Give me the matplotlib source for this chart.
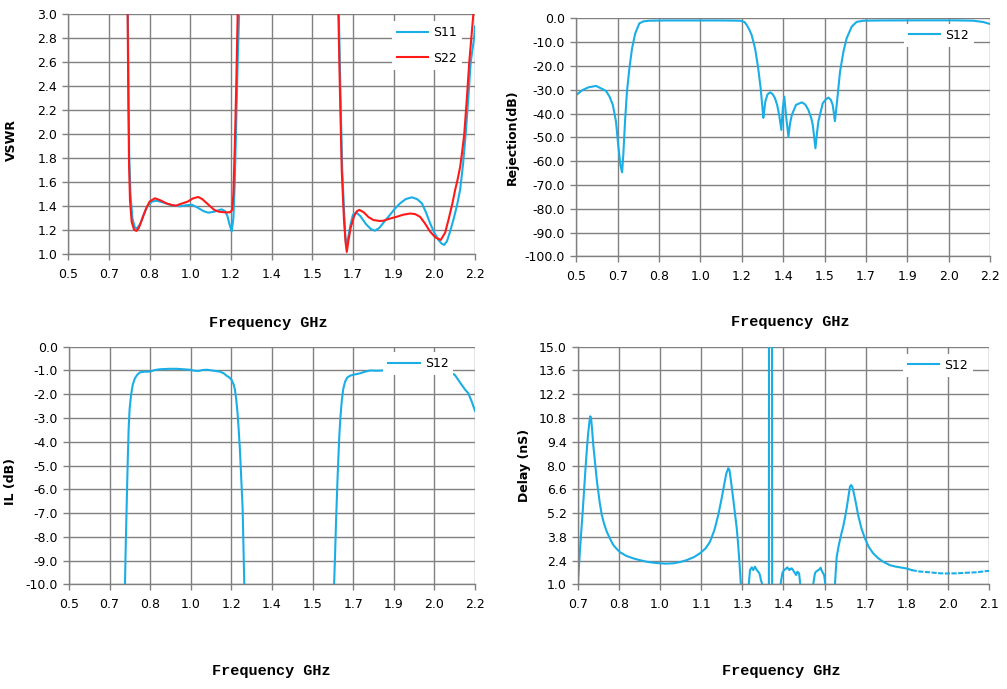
# Filter response plots: VSWR, rejection, insertion loss and group delay
import numpy as np
import matplotlib
matplotlib.use("Agg")
import matplotlib.pyplot as plt
import matplotlib.ticker as mtick

plt.rcParams["axes.unicode_minus"] = False
plt.rcParams["font.family"] = "DejaVu Sans"

BLUE = "#1aaee6"
RED = "#ff1a1a"
GRID = "#808080"

# ---- data (frequency in GHz) ----
# VSWR S11
s11_pts = [(0.745, 3.6), (0.749, 3.0), (0.752, 2.3), (0.755, 1.8), (0.760, 1.5), (0.768, 1.3),
           (0.778, 1.225), (0.786, 1.215), (0.800, 1.25), (0.815, 1.33), (0.830, 1.40), (0.850, 1.44),
           (0.870, 1.447), (0.900, 1.43), (0.930, 1.41), (0.967, 1.40), (0.990, 1.408), (1.016, 1.413),
           (1.040, 1.39), (1.065, 1.36), (1.085, 1.347), (1.110, 1.355), (1.141, 1.375), (1.155, 1.36),
           (1.165, 1.32), (1.174, 1.25), (1.183, 1.19), (1.190, 1.30), (1.196, 1.6), (1.202, 2.1),
           (1.208, 2.6), (1.214, 3.0), (1.218, 3.6),
           (1.627, 3.6), (1.631, 3.0), (1.637, 2.4), (1.645, 1.7), (1.653, 1.35), (1.658, 1.15),
           (1.662, 1.08), (1.668, 1.12), (1.680, 1.25), (1.690, 1.33), (1.703, 1.35), (1.720, 1.32),
           (1.745, 1.25), (1.765, 1.21), (1.782, 1.197), (1.800, 1.22), (1.820, 1.27), (1.845, 1.33),
           (1.865, 1.38), (1.887, 1.425), (1.910, 1.46), (1.936, 1.475), (1.958, 1.46), (1.978, 1.425),
           (1.995, 1.35), (2.012, 1.26), (2.030, 1.18), (2.047, 1.12), (2.060, 1.09), (2.071, 1.078),
           (2.083, 1.11), (2.096, 1.19), (2.110, 1.29), (2.124, 1.40), (2.138, 1.54), (2.150, 1.75),
           (2.161, 2.0), (2.172, 2.3), (2.182, 2.6), (2.196, 2.8), (2.200, 2.9)]

# VSWR S22
s22_pts = [(0.745, 3.6), (0.748, 3.0), (0.751, 2.3), (0.754, 1.75), (0.758, 1.45), (0.765, 1.27),
           (0.775, 1.205), (0.785, 1.195), (0.795, 1.22), (0.810, 1.30), (0.825, 1.38), (0.840, 1.44),
           (0.862, 1.467), (0.885, 1.45), (0.910, 1.425), (0.935, 1.41), (0.950, 1.405), (0.970, 1.42),
           (1.000, 1.44), (1.020, 1.465), (1.043, 1.478), (1.060, 1.46), (1.085, 1.415), (1.110, 1.37),
           (1.130, 1.355), (1.155, 1.35), (1.176, 1.35), (1.185, 1.37), (1.190, 1.5), (1.196, 1.9),
           (1.202, 2.4), (1.208, 3.0), (1.212, 3.6),
           (1.625, 3.6), (1.629, 3.0), (1.635, 2.4), (1.643, 1.7), (1.652, 1.3), (1.659, 1.1),
           (1.664, 1.02), (1.670, 1.1), (1.680, 1.22), (1.695, 1.32), (1.707, 1.36), (1.717, 1.37),
           (1.735, 1.35), (1.755, 1.31), (1.775, 1.286), (1.800, 1.278), (1.817, 1.28), (1.845, 1.298),
           (1.873, 1.313), (1.900, 1.33), (1.929, 1.34), (1.950, 1.335), (1.970, 1.313), (1.990, 1.26),
           (2.012, 1.19), (2.035, 1.14), (2.057, 1.12), (2.075, 1.18), (2.089, 1.286), (2.105, 1.42),
           (2.117, 1.536), (2.128, 1.63), (2.138, 1.73), (2.146, 1.85), (2.155, 2.0), (2.166, 2.3),
           (2.176, 2.6), (2.193, 3.0), (2.200, 3.15)]

# Rejection S12 (dB)
rej_pts = [(0.500, -32.2), (0.526, -30.1), (0.550, -29.0), (0.581, -28.4), (0.605, -29.6),
           (0.622, -30.5), (0.637, -33.0), (0.650, -36.4), (0.663, -43.4), (0.672, -53.2),
           (0.681, -61.6), (0.688, -64.7), (0.693, -57.4), (0.700, -43.4), (0.708, -30.8),
           (0.718, -21.0), (0.729, -12.6), (0.742, -6.3), (0.759, -2.1), (0.775, -1.3),
           (0.800, -1.0), (0.868, -0.9), (1.000, -0.9), (1.100, -0.9), (1.172, -1.0),
           (1.190, -1.5), (1.200, -2.8), (1.210, -4.7), (1.220, -7.0), (1.234, -12.6),
           (1.247, -21.0), (1.257, -29.4), (1.263, -36.0), (1.268, -41.8), (1.272, -38.5),
           (1.276, -35.0), (1.285, -32.0), (1.296, -31.1), (1.306, -31.8), (1.316, -33.6),
           (1.325, -36.5), (1.333, -40.6), (1.342, -46.9), (1.348, -37.8), (1.354, -32.9),
           (1.361, -40.6), (1.371, -49.7), (1.378, -44.0), (1.385, -40.6), (1.402, -36.4),
           (1.426, -35.3), (1.440, -36.2), (1.453, -38.5), (1.465, -42.0), (1.471, -44.8),
           (1.482, -54.6), (1.488, -48.5), (1.494, -43.4), (1.512, -35.7), (1.525, -34.0),
           (1.535, -33.3), (1.545, -34.2), (1.553, -36.4), (1.562, -43.2), (1.567, -38.5),
           (1.572, -33.6), (1.583, -22.4), (1.597, -14.0), (1.610, -8.4), (1.631, -3.5),
           (1.651, -1.5), (1.679, -1.0), (1.750, -0.9), (1.900, -0.85), (2.050, -0.85),
           (2.130, -1.0), (2.171, -1.55), (2.200, -2.4)]

# Insertion loss S12 (dB)
il_pts = [(0.733, -11.0), (0.7345, -10.0), (0.738, -8.2), (0.742, -6.5), (0.746, -4.8),
          (0.750, -3.4), (0.754, -2.6), (0.760, -2.03), (0.767, -1.6), (0.776, -1.33),
          (0.786, -1.18), (0.797, -1.08), (0.815, -1.05), (0.839, -1.05), (0.860, -0.98),
          (0.881, -0.95), (0.920, -0.93), (0.951, -0.93), (0.980, -0.95), (1.007, -0.97),
          (1.025, -1.01), (1.041, -1.02), (1.060, -0.98), (1.077, -0.97), (1.100, -1.0),
          (1.132, -1.05), (1.148, -1.12), (1.160, -1.22), (1.172, -1.3), (1.181, -1.4),
          (1.190, -1.6), (1.195, -1.82), (1.200, -2.2), (1.205, -2.7), (1.210, -3.4),
          (1.216, -4.4), (1.222, -5.7), (1.227, -6.8), (1.234, -10.0), (1.236, -11.0),
          (1.608, -11.0), (1.610, -10.0), (1.614, -8.8), (1.618, -7.4), (1.625, -5.4),
          (1.632, -3.72), (1.637, -2.9), (1.642, -2.3), (1.648, -1.8), (1.656, -1.47),
          (1.665, -1.3), (1.677, -1.22), (1.695, -1.17), (1.719, -1.12), (1.740, -1.05),
          (1.761, -1.0), (1.790, -1.01), (1.816, -1.0), (1.840, -0.97), (1.858, -0.95),
          (1.900, -0.95), (1.950, -0.97), (2.000, -0.98), (2.050, -1.0), (2.090, -1.05),
          (2.116, -1.19), (2.130, -1.4), (2.144, -1.6), (2.158, -1.8), (2.172, -1.96),
          (2.186, -2.3), (2.200, -2.7)]

# Group delay S12 (ns), solid part
delay_pts = [(0.699, 0.0), (0.700, 1.0), (0.704, 2.0), (0.708, 3.1), (0.713, 4.3), (0.717, 5.3),
             (0.721, 6.4), (0.725, 7.44), (0.730, 8.7), (0.735, 9.8), (0.740, 10.6), (0.743, 10.9),
             (0.746, 10.7), (0.749, 10.1), (0.753, 9.2), (0.757, 8.5), (0.760, 8.0), (0.764, 7.3),
             (0.767, 6.85), (0.775, 5.8), (0.782, 5.08), (0.790, 4.55), (0.799, 4.1), (0.810, 3.68),
             (0.821, 3.32), (0.833, 3.08), (0.844, 2.89), (0.865, 2.68), (0.889, 2.53), (0.910, 2.43),
             (0.935, 2.33), (0.960, 2.27), (0.980, 2.24), (1.000, 2.22), (1.025, 2.24), (1.050, 2.32),
             (1.071, 2.43), (1.095, 2.6), (1.116, 2.83), (1.135, 3.12), (1.150, 3.51), (1.165, 4.2),
             (1.178, 5.08), (1.190, 6.1), (1.198, 6.85), (1.205, 7.5), (1.212, 7.84), (1.216, 7.75),
             (1.219, 7.4), (1.226, 6.46), (1.234, 5.3), (1.241, 4.3), (1.246, 3.3), (1.250, 2.33),
             (1.255, 1.0), (1.257, 0.0),
             (1.278, 0.0), (1.282, 1.0), (1.286, 1.84), (1.289, 1.92), (1.292, 2.0), (1.295, 1.9),
             (1.297, 1.84), (1.300, 1.95), (1.303, 2.04), (1.307, 1.9), (1.311, 1.8), (1.315, 1.72),
             (1.318, 1.65), (1.321, 1.45), (1.323, 1.26), (1.328, 1.0), (1.330, 0.0),
             (1.3503, 0.0), (1.3507, 20.0), (1.361, 20.0), (1.3614, 0.0),
             (1.388, 0.0), (1.390, 1.0), (1.396, 1.65), (1.400, 1.8), (1.405, 1.88), (1.409, 1.95),
             (1.413, 2.0), (1.417, 1.9), (1.420, 1.84), (1.424, 1.92), (1.428, 1.94), (1.432, 1.85),
             (1.436, 1.74), (1.440, 1.62), (1.443, 1.55), (1.447, 1.74), (1.450, 1.7), (1.453, 1.65),
             (1.456, 1.2), (1.457, 1.0), (1.459, 0.0),
             (1.499, 0.0), (1.501, 1.0), (1.507, 1.65), (1.511, 1.75), (1.515, 1.8), (1.519, 1.85),
             (1.522, 1.88), (1.526, 1.98), (1.529, 1.85), (1.532, 1.74), (1.535, 1.65), (1.538, 1.55),
             (1.541, 1.2), (1.542, 1.0), (1.544, 0.0),
             (1.573, 0.0), (1.575, 1.0), (1.581, 2.63), (1.588, 3.3), (1.595, 3.85), (1.603, 4.4),
             (1.610, 5.0), (1.615, 5.5), (1.621, 6.2), (1.626, 6.75), (1.630, 6.85), (1.634, 6.75),
             (1.637, 6.56), (1.645, 5.9), (1.654, 5.08), (1.665, 4.3), (1.677, 3.71), (1.690, 3.2),
             (1.705, 2.83), (1.720, 2.57), (1.739, 2.33), (1.762, 2.13), (1.780, 2.05), (1.796, 2.0),
             (1.820, 1.93), (1.836, 1.84)]

# Group delay tail, drawn broken in the original
delay_tail_pts = [(1.836, 1.84), (1.860, 1.76), (1.890, 1.72), (1.932, 1.65), (1.960, 1.64),
                  (1.989, 1.65), (2.020, 1.68), (2.057, 1.71), (2.080, 1.76), (2.100, 1.80)]

# Tick labels as printed (Excel rounds the 0.17 / 0.14 GHz steps)
freq_labels = ["0.5", "0.7", "0.8", "1.0", "1.2", "1.4", "1.5", "1.7", "1.9", "2.0", "2.2"]
delay_freq_labels = ["0.7", "0.8", "1.0", "1.1", "1.3", "1.4", "1.5", "1.7", "1.8", "2.0", "2.1"]


def split(pts):
    arr = np.array(pts)
    return arr[:, 0], arr[:, 1]


def style_axes(ax, xlim, xlabels, ylim, nyticks):
    ax.set_xlim(*xlim)
    ax.set_ylim(*ylim)
    ax.set_xticks(np.linspace(xlim[0], xlim[1], len(xlabels)))
    ax.set_xticklabels(xlabels)
    ax.set_yticks(np.linspace(ylim[0], ylim[1], nyticks))
    ax.yaxis.set_major_formatter(mtick.FormatStrFormatter("%.1f"))
    ax.grid(True, color=GRID, linewidth=1.0)
    for sp in ax.spines.values():
        sp.set_color(GRID)
        sp.set_linewidth(1.0)
    ax.spines["top"].set_visible(False)
    ax.spines["right"].set_visible(False)
    ax.tick_params(axis="both", length=4, width=1.0, color=GRID, labelsize=9,
                   labelcolor="black")
    ax.tick_params(axis="x", pad=6)
    ax.tick_params(axis="y", pad=4)


def add_legend(ax, anchor):
    ax.legend(loc="upper right", bbox_to_anchor=anchor, frameon=True, fancybox=False,
              edgecolor="none", facecolor="white", framealpha=1, fontsize=9,
              handlelength=2.5, handletextpad=0.4, labelspacing=1.0,
              borderaxespad=0, borderpad=0.4)


fig = plt.figure(figsize=(10.07, 6.89), dpi=100)
fig.patch.set_facecolor("white")

# VSWR
ax1 = fig.add_axes([0.0678, 0.6309, 0.4039, 0.3483])
f, v = split(s11_pts)
ax1.plot(f, v, color=BLUE, lw=1.5, label="S11")
f, v = split(s22_pts)
ax1.plot(f, v, color=RED, lw=1.5, label="S22")
style_axes(ax1, (0.5, 2.2), freq_labels, (1.0, 3.0), 11)
add_legend(ax1, (0.967, 0.972))

# Rejection
ax2 = fig.add_axes([0.5723, 0.6280, 0.4111, 0.3454])
f, v = split(rej_pts)
ax2.plot(f, v, color=BLUE, lw=1.5, label="S12")
style_axes(ax2, (0.5, 2.2), freq_labels, (-100.0, 0.0), 11)
add_legend(ax2, (0.961, 0.978))

# Insertion loss
ax3 = fig.add_axes([0.0685, 0.1519, 0.4032, 0.3449])
f, v = split(il_pts)
ax3.plot(f, v, color=BLUE, lw=1.5, label="S12")
style_axes(ax3, (0.5, 2.2), freq_labels, (-10.0, 0.0), 11)
add_legend(ax3, (0.947, 0.978))

# Group delay
ax4 = fig.add_axes([0.5737, 0.1519, 0.4087, 0.3449])
f, v = split(delay_pts)
ax4.plot(f, v, color=BLUE, lw=1.5, label="S12")
f, v = split(delay_tail_pts)
ax4.plot(f, v, color=BLUE, lw=1.5, linestyle=(0, (2.5, 0.7)))
style_axes(ax4, (0.7, 2.1), delay_freq_labels, (1.0, 15.0), 11)
add_legend(ax4, (0.960, 0.970))

# Axis titles
ylab = dict(rotation=90, ha="center", va="center", fontsize=9, fontweight="bold")
fig.text(0.0109, 0.7968, "VSWR", **ylab)
fig.text(0.5091, 0.8016, "Rejection(dB)", **ylab)
fig.text(0.0109, 0.3009, "IL (dB)", **ylab)
fig.text(0.5213, 0.3251, "Delay (nS)", **ylab)

xlab = dict(ha="center", va="center", fontsize=11, fontweight="bold", family="Liberation Mono")
fig.text(0.2661, 0.5312, "Frequency GHz", **xlab)
fig.text(0.7848, 0.5331, "Frequency GHz", **xlab)
fig.text(0.2694, 0.0261, "Frequency GHz", **xlab)
fig.text(0.7758, 0.0261, "Frequency GHz", **xlab)

fig.savefig("out.png", dpi=100, facecolor="white")
